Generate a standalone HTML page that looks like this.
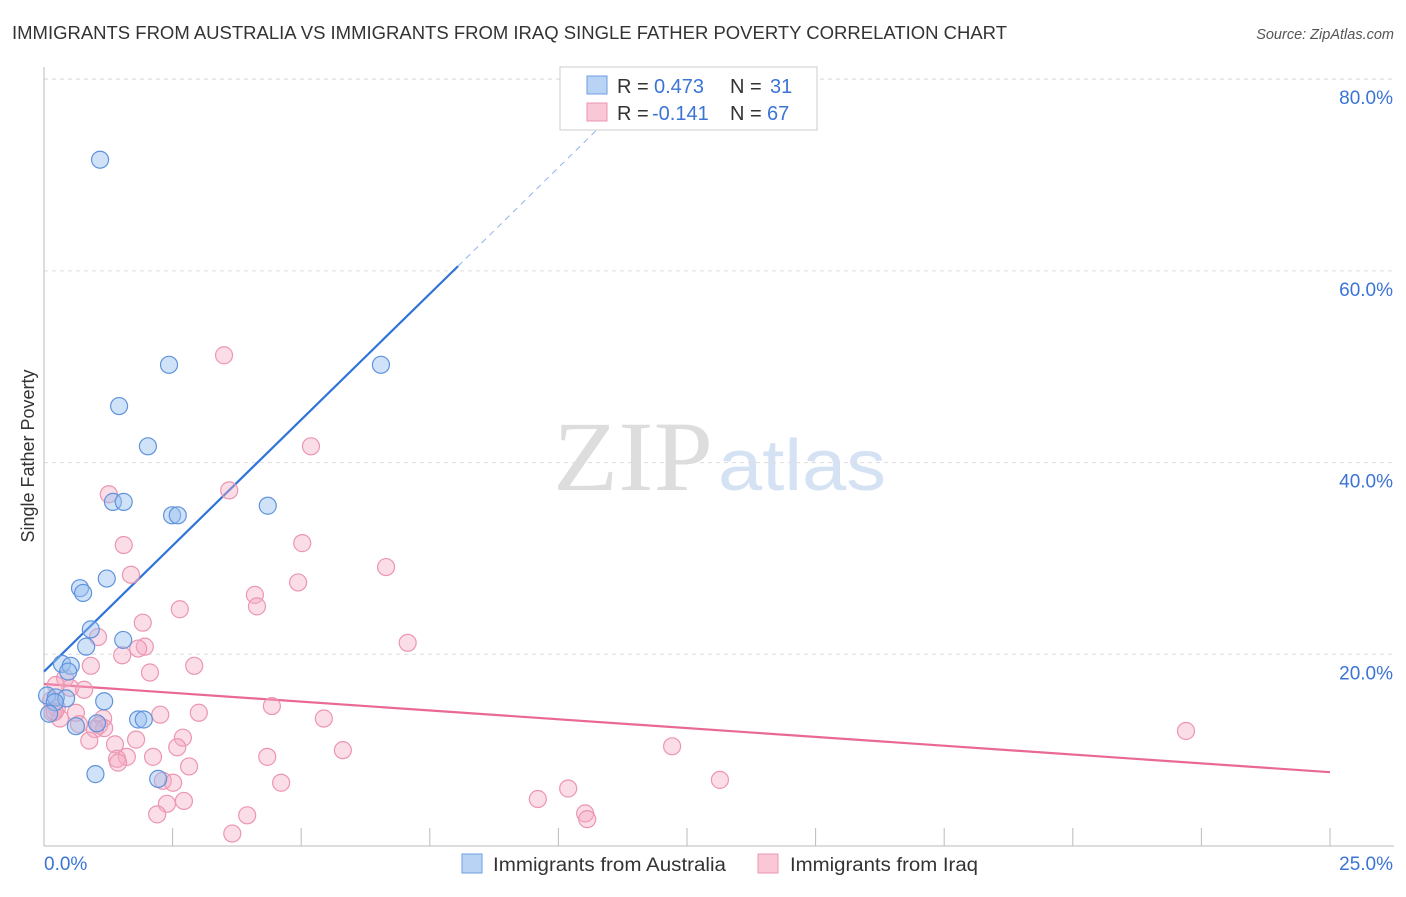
<!DOCTYPE html>
<html><head><meta charset="utf-8"><style>
body{margin:0;background:#fff;font-family:"Liberation Sans",sans-serif}
</style></head><body>
<svg id="chart" width="1406" height="892" xmlns="http://www.w3.org/2000/svg" font-family="Liberation Sans, sans-serif">
<text x="12" y="39" font-size="18" fill="#333" textLength="995" lengthAdjust="spacingAndGlyphs">IMMIGRANTS FROM AUSTRALIA VS IMMIGRANTS FROM IRAQ SINGLE FATHER POVERTY CORRELATION CHART</text>
<text x="1394" y="39" font-size="14.5" fill="#555" font-style="italic" text-anchor="end">Source: ZipAtlas.com</text>
<g>
<text x="553" y="490" font-size="100" fill="#ddd" font-family="Liberation Serif, serif" textLength="160" lengthAdjust="spacingAndGlyphs">ZIP</text>
<text x="718" y="490" font-size="72" fill="#d4e2f4" textLength="168" lengthAdjust="spacingAndGlyphs">atlas</text>
</g>
<g id="grid"></g><g id="axes"></g><g id="lines"></g><g id="pts"></g>
<text transform="translate(34,456) rotate(-90)" font-size="18" fill="#333" text-anchor="middle">Single Father Poverty</text>
<g>
<rect x="560" y="67" width="257" height="63" fill="#fff" stroke="#ccc"/>
<rect x="587" y="76" width="20" height="18" fill="#b9d3f5" stroke="#6d9de0"/>
<rect x="587" y="103" width="20" height="18" fill="#f9c7d6" stroke="#ec96b0"/>
<text x="617" y="93" font-size="20" fill="#333">R =</text>
<text x="654" y="93" font-size="20" fill="#3b74d6">0.473</text>
<text x="730" y="93" font-size="20" fill="#333">N =</text>
<text x="770" y="93" font-size="20" fill="#3b74d6">31</text>
<text x="617" y="120" font-size="20" fill="#333">R =</text>
<text x="652" y="120" font-size="20" fill="#3b74d6">-0.141</text>
<text x="730" y="120" font-size="20" fill="#333">N =</text>
<text x="767" y="120" font-size="20" fill="#3b74d6">67</text>
</g>
<g>
<rect x="462" y="854" width="20" height="19" fill="#b9d3f5" stroke="#6d9de0"/>
<text x="493" y="871" font-size="19" fill="#333" textLength="233" lengthAdjust="spacingAndGlyphs">Immigrants from Australia</text>
<rect x="758" y="854" width="20" height="19" fill="#f9c7d6" stroke="#ec96b0"/>
<text x="790" y="871" font-size="19" fill="#333" textLength="188" lengthAdjust="spacingAndGlyphs">Immigrants from Iraq</text>
</g>
</svg>
<script>
const yTicks=[20,40,60,80];
const yTickLabels=["20.0%","40.0%","60.0%","80.0%"];
const xTickVals=[0,2.5,5,7.5,10,12.5,15,17.5,20,22.5,25];
const xEndLabels=["0.0%","25.0%"];
const ausX=[1.09,2.43,6.55,1.46,2.02,1.34,1.55,4.35,2.49,2.6,1.22,0.7,0.76,0.91,1.54,0.82,0.35,0.52,0.47,0.06,0.23,0.43,0.21,1.17,0.1,0.62,1.03,1.83,1.94,2.22,1.0];
const ausY=[71.6,50.2,50.2,45.9,41.7,35.9,35.9,35.5,34.5,34.5,27.9,26.9,26.4,22.6,21.5,20.8,19.0,18.8,18.2,15.7,15.5,15.4,15.0,15.1,13.8,12.5,12.8,13.2,13.2,7.0,7.5];
const iraqX=[3.5,5.19,3.6,1.26,1.55,5.02,6.65,1.69,4.94,4.1,4.14,2.64,1.92,1.05,7.07,1.96,1.83,1.52,0.91,2.92,2.06,0.41,0.51,0.78,0.23,0.14,0.25,0.17,0.31,0.62,1.15,4.43,2.26,3.01,1.07,1.17,0.68,5.44,0.99,0.88,1.38,1.79,2.7,2.59,5.81,4.34,2.12,1.61,1.42,1.44,2.82,2.31,2.51,4.61,13.14,12.21,22.2,2.39,2.72,2.2,3.95,3.66,9.6,10.19,10.52,10.56,0.21];
const iraqY=[51.2,41.7,37.1,36.7,31.4,31.6,29.1,28.3,27.5,26.2,25.0,24.7,23.3,21.8,21.2,20.8,20.6,19.9,18.8,18.8,18.1,17.5,16.5,16.3,16.8,15.2,14.4,13.9,13.3,13.9,13.3,14.6,13.7,13.9,12.6,12.3,12.7,13.3,12.2,11.0,10.6,11.1,11.3,10.3,10.0,9.3,9.3,9.3,9.1,8.7,8.3,6.8,6.6,6.6,6.9,10.4,12.0,4.4,4.7,3.3,3.2,1.3,4.9,6.0,3.4,2.8,14.0];
const blueLine=[[0,18.2],[8.05,60.5]];
const blueDash=[[8.05,60.5],[10.8,75]];
const pinkLine=[[0,16.9],[25,7.7]];
const X=v=>44+v*51.44, Y=v=>846-v*9.585;
const NS="http://www.w3.org/2000/svg";
function mk(p,t,a){const e=document.createElementNS(NS,t);for(const k in a)e.setAttribute(k,a[k]);document.getElementById(p).appendChild(e);return e;}
yTicks.forEach((t,i)=>{
 const g=mk('grid','line',{x1:44,x2:1394,y1:Y(t),y2:Y(t),stroke:'#ddd','stroke-dasharray':'4,4'});
 
 
 const l=mk('grid','text',{x:1393,y:Y(t)+25,'font-size':19,fill:'#3b74d6','text-anchor':'end'});l.textContent=yTickLabels[i];
 
 
});
const topG=mk('grid','line',{x1:44,x2:1394,y1:79,y2:79,stroke:'#ddd','stroke-dasharray':'4,4'});


const ya=mk('axes','line',{x1:44,x2:44,y1:67,y2:846,stroke:'#bbb'});


const xa=mk('axes','line',{x1:44,x2:1394,y1:846,y2:846,stroke:'#bbb'});


xTickVals.forEach(v=>{const t=mk('axes','line',{x1:X(v),x2:X(v),y1:828,y2:846,stroke:'#bbb'});
 
 });
const l0=mk('axes','text',{x:44,y:870,'font-size':19,fill:'#3b74d6'});l0.textContent=xEndLabels[0];


const l1=mk('axes','text',{x:1393,y:870,'font-size':19,fill:'#3b74d6','text-anchor':'end'});l1.textContent=xEndLabels[1];


iraqX.forEach((v,i)=>{const c=mk('pts','circle',{cx:X(v),cy:Y(iraqY[i]),r:8.5,fill:'rgba(246,170,196,0.4)',stroke:'#ec96b0','stroke-width':1.2});
 
 });
ausX.forEach((v,i)=>{const c=mk('pts','circle',{cx:X(v),cy:Y(ausY[i]),r:8.5,fill:'rgba(150,190,240,0.45)',stroke:'#5f93dc','stroke-width':1.2});
 
 });
const bl=mk('lines','line',{x1:X(blueLine[0][0]),y1:Y(blueLine[0][1]),x2:X(blueLine[1][0]),y2:Y(blueLine[1][1]),stroke:'#2f74d8','stroke-width':2.2});


const bd=mk('lines','line',{x1:X(blueDash[0][0]),y1:Y(blueDash[0][1]),x2:X(blueDash[1][0]),y2:Y(blueDash[1][1]),stroke:'#8fb3e8','stroke-width':1,'stroke-dasharray':'6,5'});


const pl=mk('lines','line',{x1:X(pinkLine[0][0]),y1:Y(pinkLine[0][1]),x2:X(pinkLine[1][0]),y2:Y(pinkLine[1][1]),stroke:'#e96895','stroke-width':2.2});


</script>
</body></html>
